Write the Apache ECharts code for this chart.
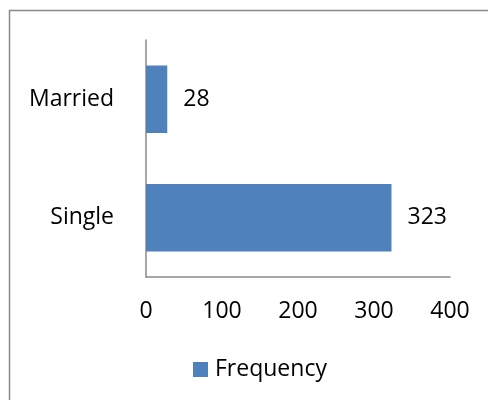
<!DOCTYPE html>
<html>
<head>
<meta charset="utf-8">
<script src="https://cdn.jsdelivr.net/npm/echarts@6/dist/echarts.min.js"></script>
<style>html,body{margin:0;padding:0;background:#fff;}#c{width:488px;height:400px;}</style>
</head>
<body>
<div id="c"></div>
<script>
var categories = ['Single', 'Married'];
var frequency = [323, 28];
var xTicks = [0, 100, 200, 300, 400];
var seriesName = 'Frequency';

var FONT = 'Open Sans';
var FS = 23;
var chart = echarts.init(document.getElementById('c'), null, {renderer: 'canvas'});
chart.setOption({
  animation: false,
  backgroundColor: '#fff',
  graphic: [{
    type: 'rect', shape: {x: 9.5, y: 10.5, width: 500, height: 420},
    style: {fill: 'none', stroke: '#8a8a8a', lineWidth: 1.5}, silent: true
  }],
  grid: {left: 146, top: 40, width: 304, height: 237, containLabel: false},
  legend: {
    data: [seriesName], top: 353, left: 188,
    itemWidth: 15, itemHeight: 15, itemGap: 10,
    icon: 'rect',
    textStyle: {fontFamily: FONT, fontSize: FS, color: '#000', padding: [0,0,0,2]}
  },
  xAxis: {
    type: 'value', min: xTicks[0], max: xTicks[xTicks.length - 1], interval: 100,
    axisLine: {show: true, lineStyle: {color: '#8a8a8a', width: 1.5}},
    axisTick: {show: false}, splitLine: {show: false},
    axisLabel: {fontFamily: FONT, fontSize: FS, color: '#000', margin: 23}
  },
  yAxis: {
    type: 'category', data: categories,
    axisLine: {show: true, lineStyle: {color: '#8a8a8a', width: 1.5}},
    axisTick: {show: false},
    axisLabel: {fontFamily: FONT, fontSize: FS, color: '#000', margin: 32}
  },
  series: [{
    name: seriesName, type: 'bar', data: frequency, barWidth: '57%',
    itemStyle: {color: '#4F81BD'},
    label: {show: true, position: 'right', distance: 16, fontFamily: FONT, fontSize: FS, color: '#000'}
  }]
});
</script>
</body>
</html>
